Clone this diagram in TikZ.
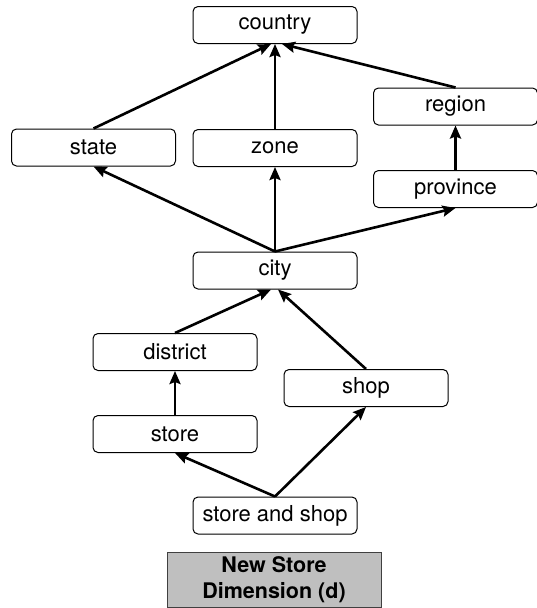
\documentclass[tikz,border=0pt]{standalone}
\usepackage{fontspec}
\setmainfont{TeX Gyre Heros}
\usetikzlibrary{arrows.meta}
\begin{document}
\begin{tikzpicture}[x=1pt,y=-1pt,
  level/.style={draw=black, line width=1pt, rounded corners=5pt, fill=white,
    minimum width=164pt, minimum height=37pt, inner sep=0pt,
    font=\fontsize{22}{26}\selectfont},
  title/.style={draw=black!75, line width=1pt, fill=black!25,
    minimum width=214pt, minimum height=55pt, inner sep=0pt, align=center,
    font=\fontsize{21.5}{26}\selectfont\bfseries},
  rollup/.style={line width=2.6pt, -{Stealth[length=13pt,width=11pt,inset=2pt]}}]
\useasboundingbox (0,0) rectangle (537,608);

% hierarchy levels
\node[level] (country)  at (275,25)    {country};
\node[level] (region)   at (455.5,106.5) {region};
\node[level] (state)    at (93.5,147.5) {state};
\node[level] (zone)     at (275,148)   {zone};
\node[level] (province) at (455.5,189) {province};
\node[level] (city)     at (275,270.5) {city};
\node[level] (district) at (175,352)   {district};
\node[level] (shop)     at (366,388)   {shop};
\node[level] (store)    at (175,434)   {store};
\node[level] (sns)      at (275,515.5) {store and shop};

\node[title] (caption) at (274,579.5) {New Store\\Dimension (d)};

% roll-up connectors
\draw[rollup] (state.north)    -- ([xshift=-4pt]country.south);
\draw[rollup] (zone.north)     -- (country.south);
\draw[rollup] (region.north)   -- ([xshift=7pt]country.south);
\draw[rollup] (province.north) -- (region.south);
\draw[rollup] (city.north)     -- (state.south);
\draw[rollup] (city.north)     -- (zone.south);
\draw[rollup] (city.north)     -- (province.south);
\draw[rollup] (district.north) -- ([xshift=-4pt]city.south);
\draw[rollup] (shop.north)     -- ([xshift=3pt]city.south);
\draw[rollup] (store.north)    -- (district.south);
\draw[rollup] (sns.north)      -- (store.south);
\draw[rollup] (sns.north)      -- (shop.south);
\end{tikzpicture}
\end{document}
